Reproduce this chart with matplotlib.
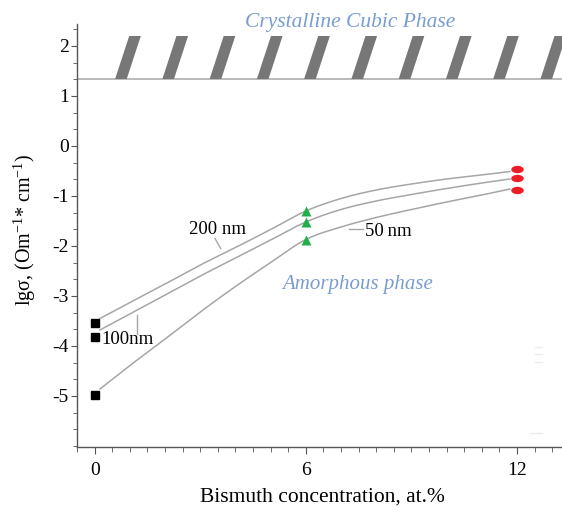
import numpy as np
import matplotlib
matplotlib.use("Agg")
import matplotlib.pyplot as plt
from matplotlib.path import Path
from matplotlib.transforms import Affine2D
from matplotlib.patches import Polygon

plt.rcParams['font.family'] = ['Liberation Serif', 'DejaVu Serif']
plt.rcParams['mathtext.fontset'] = 'custom'
plt.rcParams['mathtext.rm'] = 'Liberation Serif'
plt.rcParams['mathtext.it'] = 'Liberation Serif:italic'
plt.rcParams['axes.unicode_minus'] = False

# ---- data ----
conc = [0, 6, 12]
sigma_200 = [-3.53, -1.30, -0.45]
sigma_100 = [-3.82, -1.52, -0.63]
sigma_50 = [-4.98, -1.87, -0.87]

curve_x = [0.15, 1, 2, 3, 4, 5, 6, 7, 8, 9, 10, 11, 11.8]
curve_200 = [-3.45, -3.13, -2.76, -2.38, -2.03, -1.67, -1.30, -1.05, -0.88, -0.76, -0.66, -0.58, -0.51]
curve_100 = [-3.68, -3.36, -2.98, -2.60, -2.24, -1.88, -1.52, -1.27, -1.10, -0.97, -0.85, -0.74, -0.66]
curve_50 = [-4.86, -4.39, -3.86, -3.32, -2.81, -2.33, -1.87, -1.62, -1.43, -1.27, -1.12, -0.98, -0.86]

x_ticks = [0, 6, 12]
y_ticks = [-5, -4, -3, -2, -1, 0, 1, 2]
phase_boundary = 1.34


def smooth(xs, ys, n=20):
    """Catmull-Rom rendering of a polyline for a smooth look."""
    p = np.column_stack([xs, ys]).astype(float)
    p = np.vstack([2 * p[0] - p[1], p, 2 * p[-1] - p[-2]])
    out = []
    t = np.linspace(0, 1, n, endpoint=False)[:, None]
    for i in range(1, len(p) - 2):
        p0, p1, p2, p3 = p[i - 1], p[i], p[i + 1], p[i + 2]
        seg = 0.5 * ((2 * p1) + (-p0 + p2) * t + (2 * p0 - 5 * p1 + 4 * p2 - p3) * t ** 2
                     + (-p0 + 3 * p1 - 3 * p2 + p3) * t ** 3)
        out.append(seg)
    out.append(p[-2][None, :])
    out = np.vstack(out)
    return out[:, 0], out[:, 1]


fig = plt.figure(figsize=(5.62, 5.12), dpi=100)
ax = fig.add_axes([77 / 562, 65 / 512, 485 / 562, 423 / 512])
ax.set_xlim(-0.503, 13.28)
ax.set_ylim(-6.02, 2.44)

line_color = '#a6a6a6'
for cy in (curve_200, curve_100, curve_50):
    sx, sy = smooth(curve_x, cy)
    ax.plot(sx, sy, color=line_color, lw=1.1, zorder=2)

ax.plot(conc[:1] * 3, [sigma_200[0], sigma_100[0], sigma_50[0]], 's', color='black', ms=6, zorder=3)
ax.plot([conc[1]] * 3, [sigma_200[1], sigma_100[1], sigma_50[1]], '^', color='#1fb04a', ms=6.5,
        mec='none', zorder=3)
ell = Path.unit_circle().transformed(Affine2D().scale(1.7, 1.0))
ax.plot([conc[2]] * 3, [sigma_200[2], sigma_100[2], sigma_50[2]], marker=ell, ls='none',
        color='#ee1c25', ms=9, mec='none', zorder=3)

# phase boundary and hatch marks
ax.axhline(phase_boundary, color='#b4b4b4', lw=1.3, zorder=1)
x0, step, w, slant, top = 0.58, 1.343, 0.33, 0.40, 2.2
for i in range(10):
    xb = x0 + i * step
    poly = Polygon([[xb, phase_boundary], [xb + w, phase_boundary],
                    [xb + w + slant, top], [xb + slant, top]],
                   closed=True, facecolor='#777777', edgecolor='none', zorder=2)
    ax.add_patch(poly)

# faint artifacts at right
for yv in (-4.01, -4.16, -4.32):
    ax.plot([12.5, 12.72], [yv, yv], color='#ececec', lw=1, zorder=1)
ax.plot([12.38, 12.72], [-5.73, -5.73], color='#ececec', lw=1, zorder=1)

# annotations
ax.text(3.5, -1.66, '200 nm', fontsize=13.5, ha='center', va='center')
ax.plot([3.42, 3.58], [-1.85, -2.05], color=line_color, lw=1)
ax.text(8.33, -1.71, '50\u2009nm', fontsize=13.5, ha='center', va='center')
ax.plot([7.23, 7.63], [-1.65, -1.65], color=line_color, lw=1)
ax.text(0.92, -3.88, '100nm', fontsize=13.5, ha='center', va='center')
ax.plot([1.21, 1.21], [-3.38, -3.75], color=line_color, lw=1)

ax.text(7.48, -2.78, 'Amorphous phase', fontsize=15, style='italic', color='#7a9cd0',
        ha='center', va='center')
fig.text(350 / 562, 1 - 23 / 512, 'Crystalline Cubic Phase', fontsize=15.5, style='italic',
         color='#7a9cd0', ha='center', va='center')

# axes styling
for s in ('top', 'right'):
    ax.spines[s].set_visible(False)
for s in ('left', 'bottom'):
    ax.spines[s].set_color('#555555')
    ax.spines[s].set_linewidth(1.0)

ax.set_xticks(x_ticks)
ax.set_xticks(np.arange(-0.5, 13.3, 0.5), minor=True)
ax.set_yticks(y_ticks)
ax.set_yticks(np.arange(-6, 2.44, 1 / 3), minor=True)
ax.set_yticklabels([str(v) for v in y_ticks])
ax.tick_params(axis='both', which='both', direction='out', color='#555555', labelsize=14)
ax.tick_params(axis='x', which='major', length=5, pad=6)
ax.tick_params(axis='x', which='minor', length=3.5)
ax.tick_params(axis='y', which='major', length=4, pad=2)
ax.tick_params(axis='y', which='minor', length=3)

ax.set_xlabel('Bismuth concentration, at.%', fontsize=15.5)
ax.xaxis.set_label_coords((322 - 77) / 485, -0.097)
ax.set_ylabel(r'lgσ, (Om$^{\mathregular{-1}}$* cm$^{\mathregular{-1}}$)', fontsize=14.5)
ax.yaxis.set_label_coords(-0.080, 0.513)

fig.savefig('out.png', dpi=100)
